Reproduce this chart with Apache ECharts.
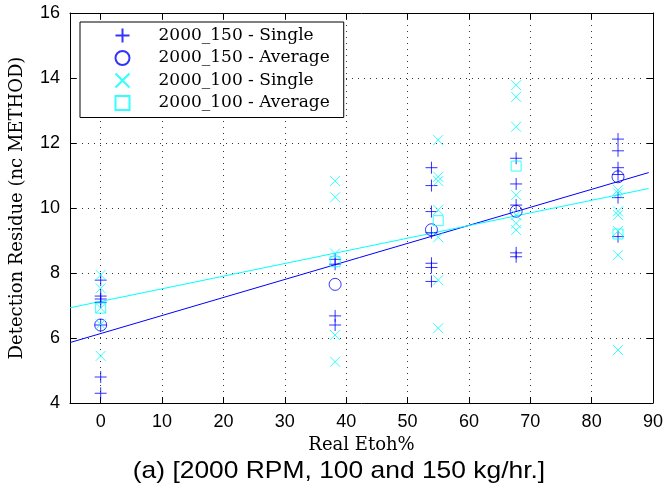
<!DOCTYPE html>
<html>
<head>
<meta charset="utf-8">
<script src="https://cdn.jsdelivr.net/npm/echarts@6/dist/echarts.min.js"></script>
<style>html,body{margin:0;padding:0;background:#fff}#c{width:669px;height:492px}</style>
</head>
<body>
<div id="c"></div>
<script>
// Data
const single150 = [
  [0,7.78],[0,7.29],[0,7.2],[0,7.1],[0,6.4],[0,4.8],[0,4.3],
  [38.2,8.42],[38.2,8.27],[38.2,6.68],[38.2,6.4],
  [53.9,11.24],[53.9,10.69],[53.9,9.89],[53.9,9.24],[53.9,8.3],[53.9,8.17],[53.9,7.74],
  [67.7,11.53],[67.7,10.74],[67.7,10.09],[67.7,8.62],[67.7,8.5],
  [84.3,12.12],[84.3,11.76],[84.3,11.24],[84.3,11.03],[84.3,10.32],[84.3,9.12]
];
const average150 = [[0,6.4],[38.2,7.65],[53.9,9.33],[67.7,9.9],[84.3,10.96]];
const single100 = [
  [0,7.94],[0,7.53],[0,6.92],[0,6.42],[0,5.45],
  [38.2,10.83],[38.2,10.33],[38.2,8.6],[38.2,6.09],[38.2,5.27],
  [55,12.09],[55,10.96],[55,10.83],[55,9.94],[55,9.1],[55,7.78],[55,6.3],
  [67.7,13.78],[67.7,13.42],[67.7,12.5],[67.7,10.4],[67.7,9.78],[67.7,9.53],[67.7,9.32],
  [84.3,10.55],[84.3,10.45],[84.3,9.9],[84.3,9.78],[84.3,9.29],[84.3,8.55],[84.3,5.63]
];
const average100 = [[0,6.92],[38.2,8.35],[55,9.61],[67.7,11.29],[84.3,9.2]];
const fit150 = [[-5,5.86],[89.3,11.09]];
const fit100 = [[-5,6.93],[89.3,10.6]];
const yTicks = [4,6,8,10,12,14,16];
const seriesNames = ['2000_150 - Single','2000_150 - Average','2000_100 - Single','2000_100 - Average'];

const BLUE = '#0000ff', CYAN = '#00ffff';
const plusPath = 'path://M5,0L5,10M0,5L10,5';
const crossPath = 'path://M0,0L10,10M0,10L10,0';
const squarePath = 'path://M0,0L10,0L10,10L0,10Z';
const serif = 'DejaVu Serif';
const sans = 'Liberation Sans';

const chart = echarts.init(document.getElementById('c'));
const tickStyle = {show:true, inside:true, length:6, lineStyle:{color:'#000', width:1}};
const gridLine = {show:true, lineStyle:{color:'#333', type:[1,5], width:1}};
chart.setOption({
  animation:false,
  backgroundColor:'#fff',
  grid:{left:69, right:16, top:13, bottom:89},
  graphic:[{
    type:'text', x:339, y:471, scaleX:1.1,
    style:{text:'(a) [2000 RPM, 100 and 150 kg/hr.]', fontFamily:sans, fontSize:24,
      fill:'#000', align:'center', verticalAlign:'middle'}
  }],
  legend:{
    left:80, top:22, orient:'vertical',
    backgroundColor:'#fff', borderColor:'#000', borderWidth:1,
    padding:[4,14,5,33],
    itemWidth:62, itemHeight:14, itemGap:3.5,
    symbolKeepAspect:true,
    textStyle:{fontFamily:serif, fontSize:17, color:'#000'},
    data:[seriesNames[0], seriesNames[1], seriesNames[2], {name:seriesNames[3], icon:squarePath}]
  },
  xAxis:[{
    type:'value', min:-5, max:90, minInterval:10, maxInterval:10,
    name:'Real Etoh%', nameLocation:'middle', nameGap:31,
    nameTextStyle:{fontFamily:serif, fontSize:18, color:'#000'},
    axisLine:{show:true, onZero:false, lineStyle:{color:'#000'}},
    axisTick:tickStyle,
    axisLabel:{fontFamily:sans, fontSize:18, color:'#000', margin:10, showMinLabel:false},
    splitLine:gridLine
  },{
    type:'value', position:'top', min:-5, max:90, minInterval:10, maxInterval:10,
    axisLine:{show:true, onZero:false, lineStyle:{color:'#000'}},
    axisTick:tickStyle, axisLabel:{show:false}, splitLine:{show:false}
  }],
  yAxis:[{
    type:'value', min:yTicks[0], max:yTicks[yTicks.length-1], interval:2,
    name:'Detection Residue (nc METHOD)', nameLocation:'middle', nameGap:44,
    nameTextStyle:{fontFamily:serif, fontSize:18, color:'#000'},
    axisLine:{show:true, onZero:false, lineStyle:{color:'#000'}},
    axisTick:tickStyle,
    axisLabel:{fontFamily:sans, fontSize:18, color:'#000', margin:10},
    splitLine:gridLine
  },{
    type:'value', position:'right', min:yTicks[0], max:yTicks[yTicks.length-1], interval:2,
    axisLine:{show:true, onZero:false, lineStyle:{color:'#000'}},
    axisTick:tickStyle, axisLabel:{show:false}, splitLine:{show:false}
  }],
  series:[
    {name:'fit150', type:'line', data:fit150, symbol:'none', lineStyle:{color:BLUE, width:1}, z:1},
    {name:'fit100', type:'line', data:fit100, symbol:'none', lineStyle:{color:CYAN, width:1}, z:1},
    {name:seriesNames[0], type:'scatter', data:single150, symbol:plusPath, symbolSize:12,
      itemStyle:{color:'none', borderColor:BLUE, borderWidth:1}},
    {name:seriesNames[1], type:'scatter', data:average150, symbol:'circle', symbolSize:12,
      itemStyle:{color:'none', borderColor:BLUE, borderWidth:1}},
    {name:seriesNames[2], type:'scatter', data:single100, symbol:crossPath, symbolSize:10,
      itemStyle:{color:'none', borderColor:CYAN, borderWidth:1}},
    {name:seriesNames[3], type:'scatter', data:average100, symbol:squarePath, symbolSize:10,
      itemStyle:{color:'none', borderColor:CYAN, borderWidth:1}}
  ]
});
</script>
</body>
</html>
